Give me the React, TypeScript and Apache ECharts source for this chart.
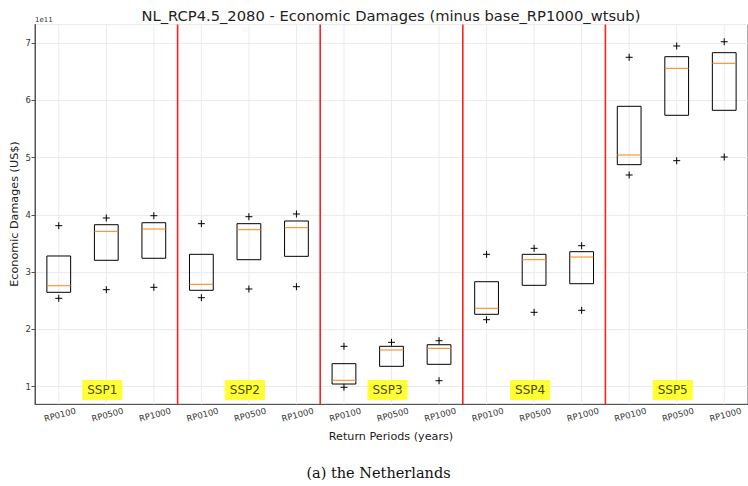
import React, { useEffect, useRef } from 'react';
import * as echarts from 'echarts';

const returnPeriods = ['RP0100', 'RP0500', 'RP1000'];
const scenarios = ['SSP1', 'SSP2', 'SSP3', 'SSP4', 'SSP5'];
const xLabels = scenarios.flatMap(() => returnPeriods);

// values in units of 1e11 US$
const q1 = [2.648, 3.207, 3.242, 2.683, 3.217, 3.276, 1.047, 1.356, 1.391, 2.264, 2.770, 2.798, 4.876, 5.738, 5.825];
const median = [2.763, 3.713, 3.753, 2.788, 3.741, 3.776, 1.112, 1.641, 1.670, 2.369, 3.217, 3.264, 5.045, 6.558, 6.646];
const q3 = [3.282, 3.828, 3.863, 3.311, 3.846, 3.893, 1.402, 1.705, 1.733, 2.833, 3.311, 3.357, 5.895, 6.761, 6.831];
const lowFlier = [2.543, 2.694, 2.735, 2.554, 2.706, 2.746, 0.99, null, 1.105, 2.170, 2.299, 2.334, 4.696, 4.946, 5.010];
const highFlier = [3.811, 3.945, 3.985, 3.846, 3.968, 4.015, 1.705, 1.775, 1.803, 3.311, 3.416, 3.462, 6.751, 6.948, 7.022];

const yMin = 0.693;
const yMax = 7.323;
const labelLevel = 0.944;

const FONT = 'DejaVu Sans';

export default function App() {
  const ref = useRef<HTMLDivElement>(null);
  useEffect(() => {
    document.body.style.margin = '0';
    const chart = echarts.init(ref.current!, null, { renderer: 'svg' });
    const perGroup = returnPeriods.length;
    const boundaries = scenarios.slice(1).map((_, g) => (g + 1) * perGroup);
    const labelPoints = scenarios.map((s, g) => ({ value: [g * perGroup + 1, labelLevel], name: s }));

    const option: any = {
      animation: false,
      grid: {
        left: 35, right: -2, top: 24.5, bottom: 81.7,
        show: true, borderColor: '#555', borderWidth: 1, backgroundColor: 'transparent',
      },
      xAxis: {
        type: 'category',
        data: xLabels,
        boundaryGap: true,
        axisLine: { lineStyle: { color: '#555', width: 1 } },
        axisTick: { alignWithLabel: true, length: 3.5, lineStyle: { color: '#555' } },
        axisLabel: {
          rotate: 15, fontSize: 8.5, color: '#333', margin: 6, fontFamily: FONT,
          align: 'center', verticalAlign: 'top', interval: 0,
        },
        splitLine: { show: false },
      },
      yAxis: {
        type: 'value',
        min: yMin,
        max: yMax,
        splitNumber: 5,
        axisLine: { show: true, lineStyle: { color: '#555', width: 1 } },
        axisTick: { show: true, length: 3.5, lineStyle: { color: '#555' } },
        axisLabel: { fontSize: 8.5, color: '#333', margin: 4, fontFamily: FONT, showMinLabel: false, showMaxLabel: false },
        splitLine: { show: true, lineStyle: { color: '#ebebeb', width: 1 } },
      },
      series: [
        {
          type: 'custom',
          z: 1,
          silent: true,
          data: xLabels.map((_, i) => [i, yMin]),
          encode: { x: 0, y: 1 },
          renderItem: (params: any, api: any) => {
            const i = params.dataIndex;
            const cs = params.coordSys;
            const x = api.coord([i, yMin])[0];
            return {
              type: 'line',
              shape: { x1: x, y1: cs.y, x2: x, y2: cs.y + cs.height },
              style: { stroke: '#ebebeb', lineWidth: 1 },
            };
          },
        },
        {
          type: 'custom',
          z: 3,
          data: xLabels.map((_, i) => [i, q1[i], q3[i]]),
          encode: { x: 0, y: [1, 2] },
          renderItem: (params: any, api: any) => {
            const i = params.dataIndex;
            const bw = api.size([1, 0])[0] * 0.5;
            const cx = api.coord([i, median[i]])[0];
            const yTop = api.coord([i, q3[i]])[1];
            const yBot = api.coord([i, q1[i]])[1];
            const yMed = api.coord([i, median[i]])[1];
            const children: any[] = [
              {
                type: 'rect',
                shape: { x: cx - bw / 2, y: yTop, width: bw, height: yBot - yTop },
                style: { fill: 'none', stroke: '#000', lineWidth: 1 },
              },
              {
                type: 'line',
                shape: { x1: cx - bw / 2, y1: yMed, x2: cx + bw / 2, y2: yMed },
                style: { stroke: '#ff7f0e', lineWidth: 1 },
              },
            ];
            const plus = (v: number | null) => {
              if (v == null) return;
              const y = api.coord([i, v])[1];
              children.push(
                { type: 'line', shape: { x1: cx - 3.5, y1: y, x2: cx + 3.5, y2: y }, style: { stroke: '#000', lineWidth: 1 } },
                { type: 'line', shape: { x1: cx, y1: y - 3.5, x2: cx, y2: y + 3.5 }, style: { stroke: '#000', lineWidth: 1 } },
              );
            };
            plus(lowFlier[i]);
            plus(highFlier[i]);
            return { type: 'group', children };
          },
        },
        {
          type: 'custom',
          z: 4,
          silent: true,
          data: boundaries.map((b) => [b, yMin]),
          encode: { x: 0, y: 1 },
          renderItem: (params: any, api: any) => {
            const b = boundaries[params.dataIndex];
            const cs = params.coordSys;
            const x = (api.coord([b - 1, yMin])[0] + api.coord([b, yMin])[0]) / 2;
            return {
              type: 'line',
              shape: { x1: x, y1: cs.y, x2: x, y2: cs.y + cs.height },
              style: { stroke: '#ff2020', lineWidth: 1.6 },
            };
          },
        },
        {
          type: 'scatter',
          z: 6,
          silent: true,
          symbolSize: 1,
          itemStyle: { color: 'transparent' },
          data: labelPoints,
          label: {
            show: true,
            position: 'inside',
            offset: [-4, 0],
            formatter: (p: any) => p.name,
            backgroundColor: '#ffff00',
            padding: [4, 5, 4, 5],
            fontSize: 12,
            color: '#111',
            fontFamily: FONT,
          },
        },
      ],
      graphic: [
        {
          type: 'text', x: 391, y: 15,
          style: {
            text: 'NL_RCP4.5_2080 - Economic Damages (minus base_RP1000_wtsub)',
            fontSize: 14.7, fontFamily: FONT, fill: '#222', textAlign: 'center', textVerticalAlign: 'middle',
          },
        },
        {
          type: 'text', x: 35, y: 19.5,
          style: { text: '1e11', fontSize: 7, fontFamily: FONT, fill: '#333', textAlign: 'left', textVerticalAlign: 'middle' },
        },
        {
          type: 'text', x: 14, y: 214, rotation: Math.PI / 2,
          style: { text: 'Economic Damages (US$)', fontSize: 11.2, fontFamily: FONT, fill: '#222', textAlign: 'center', textVerticalAlign: 'middle' },
        },
        {
          type: 'text', x: 391, y: 436.5,
          style: { text: 'Return Periods (years)', fontSize: 11.2, fontFamily: FONT, fill: '#222', textAlign: 'center', textVerticalAlign: 'middle' },
        },
        {
          type: 'text', x: 378.5, y: 472.5,
          style: { text: '(a) the Netherlands', fontSize: 14.5, fontFamily: 'DejaVu Serif', fill: '#111', textAlign: 'center', textVerticalAlign: 'middle' },
        },
      ],
    };
    chart.setOption(option);
    return () => chart.dispose();
  }, []);
  return <div ref={ref} style={{ width: 748, height: 486 }} />;
}
